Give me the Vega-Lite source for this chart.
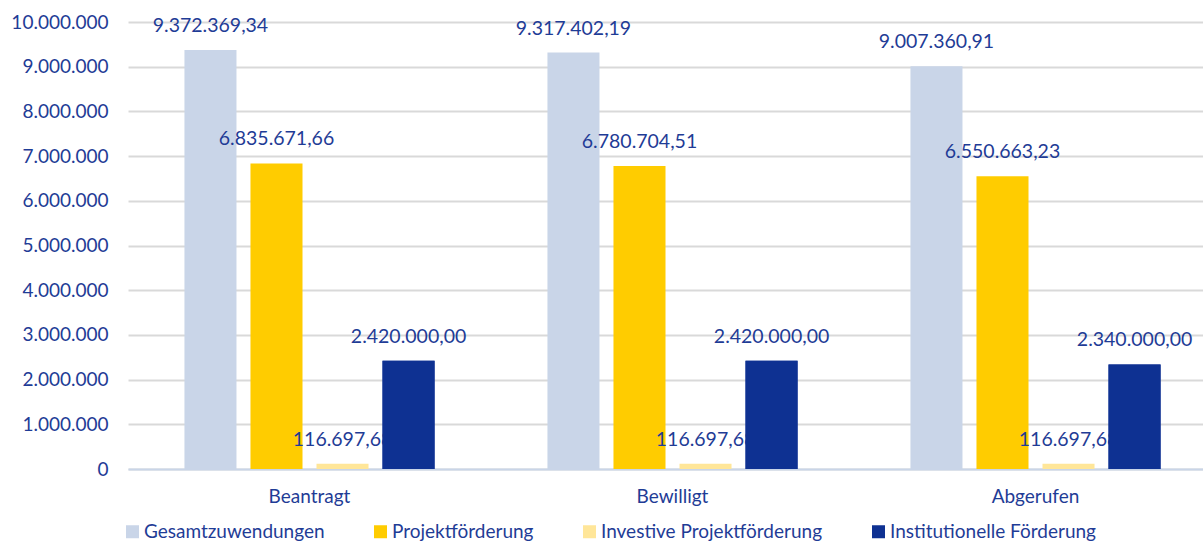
{
  "$schema": "https://vega.github.io/schema/vega-lite/v6.json",
  "autosize": {"type": "none"},
  "width": 1075,
  "height": 447,
  "padding": {"left": 128, "top": 22, "right": 0, "bottom": 73},
  "background": "white",
  "config": {
    "locale": {"number": {"decimal": ",", "thousands": ".", "grouping": [3], "currency": ["", " €"]}},
    "font": "Lato",
    "view": {"stroke": null}
  },
  "data": {
    "values": [
      {"Kategorie": "Beantragt", "Serie": "Gesamtzuwendungen", "Wert": 9372369.34},
      {"Kategorie": "Beantragt", "Serie": "Projektförderung", "Wert": 6835671.66},
      {"Kategorie": "Beantragt", "Serie": "Investive Projektförderung", "Wert": 116697.68},
      {"Kategorie": "Beantragt", "Serie": "Institutionelle Förderung", "Wert": 2420000.00},
      {"Kategorie": "Bewilligt", "Serie": "Gesamtzuwendungen", "Wert": 9317402.19},
      {"Kategorie": "Bewilligt", "Serie": "Projektförderung", "Wert": 6780704.51},
      {"Kategorie": "Bewilligt", "Serie": "Investive Projektförderung", "Wert": 116697.68},
      {"Kategorie": "Bewilligt", "Serie": "Institutionelle Förderung", "Wert": 2420000.00},
      {"Kategorie": "Abgerufen", "Serie": "Gesamtzuwendungen", "Wert": 9007360.91},
      {"Kategorie": "Abgerufen", "Serie": "Projektförderung", "Wert": 6550663.23},
      {"Kategorie": "Abgerufen", "Serie": "Investive Projektförderung", "Wert": 116697.68},
      {"Kategorie": "Abgerufen", "Serie": "Institutionelle Förderung", "Wert": 2340000.00}
    ]
  },
  "encoding": {
    "x": {
      "field": "Kategorie", "type": "nominal",
      "sort": ["Beantragt", "Bewilligt", "Abgerufen"],
      "scale": {"range": [0, 1089], "paddingInner": 0.311, "paddingOuter": 0.1555},
      "axis": {
        "title": null, "labelAngle": 0, "ticks": false, "domain": true,
        "domainColor": "#c9d5e8", "domainWidth": 2,
        "labelColor": "#1f3c96", "labelFontSize": 19, "labelPadding": 18,
        "grid": false
      }
    },
    "xOffset": {
      "field": "Serie", "type": "nominal",
      "sort": ["Gesamtzuwendungen", "Projektförderung", "Investive Projektförderung", "Institutionelle Förderung"],
      "scale": {"paddingInner": 0.212, "paddingOuter": 0}
    },
    "y": {
      "field": "Wert", "type": "quantitative",
      "scale": {"domain": [0, 10000000], "nice": false},
      "axis": {
        "title": null, "values": [0,1000000,2000000,3000000,4000000,5000000,6000000,7000000,8000000,9000000,10000000],
        "format": ",d", "ticks": false, "domain": false, "labelOverlap": false,
        "gridColor": "#d9d9d9", "gridWidth": 2,
        "labelColor": "#1f3c96", "labelFontSize": 19, "labelPadding": 20
      }
    }
  },
  "layer": [
    {
      "mark": {"type": "bar"},
      "encoding": {
        "color": {
          "field": "Serie", "type": "nominal",
          "sort": ["Gesamtzuwendungen", "Projektförderung", "Investive Projektförderung", "Institutionelle Förderung"],
          "scale": {
            "domain": ["Gesamtzuwendungen", "Projektförderung", "Investive Projektförderung", "Institutionelle Förderung"],
            "range": ["#c9d5e8", "#ffcc00", "#ffe699", "#0e3192"]
          },
          "legend": {
            "title": null, "orient": "none", "direction": "horizontal",
            "legendX": -5, "legendY": 500, "columns": 4, "columnPadding": 46,
            "symbolType": "square", "symbolSize": 169, "symbolStrokeWidth": 0,
            "labelColor": "#1f3c96", "labelFontSize": 19, "labelOffset": 2, "labelLimit": 400, "padding": 0
          }
        }
      }
    },
    {
      "mark": {"type": "text", "baseline": "alphabetic", "dy": -18, "fontSize": 19.5, "color": "#1f3c96"},
      "encoding": {
        "text": {"field": "Wert", "type": "quantitative", "format": ",.2f"}
      }
    },
    {
      "transform": [{"filter": "datum.Serie === 'Institutionelle Förderung'"}],
      "mark": {"type": "bar", "color": "#0e3192"},
      "encoding": {}
    }
  ]
}
